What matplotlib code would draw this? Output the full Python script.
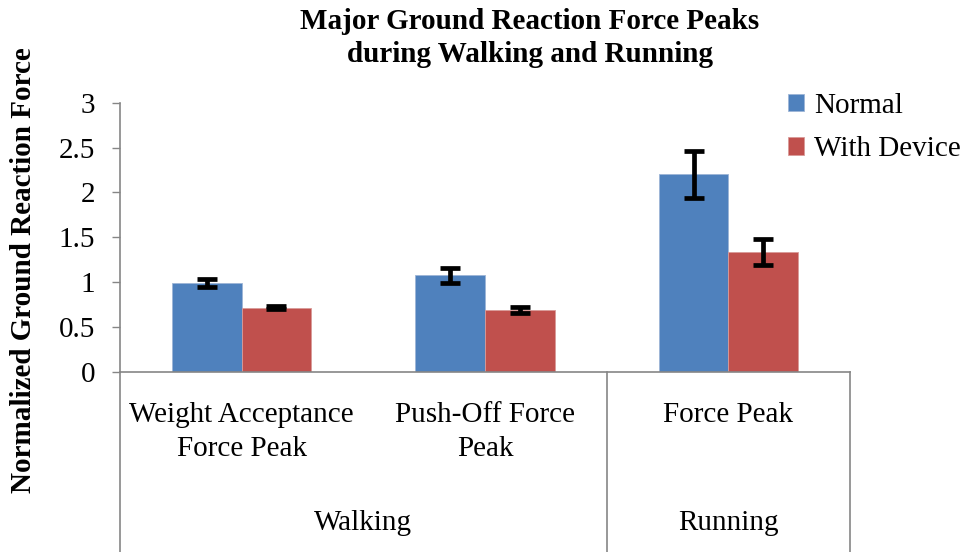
import numpy as np
import matplotlib
matplotlib.use("Agg")
import matplotlib.pyplot as plt
from matplotlib.transforms import blended_transform_factory

# peak values (body-weight normalised) and their standard deviations
peaks = ["Weight Acceptance\nForce Peak", "Push-Off Force\nPeak", "Force Peak"]
activities = ["Walking", "Running"]
activity_spans = [(0, 1), (2, 2)]
normal = [0.99, 1.075, 2.20]
normal_sd = [0.04, 0.085, 0.26]
device = [0.715, 0.69, 1.34]
device_sd = [0.02, 0.035, 0.145]

BLUE = "#4F81BD"
RED = "#C0504D"
AXIS_GREY = "#868686"
FS = 21

plt.rcParams["font.family"] = ["Liberation Serif", "DejaVu Serif"]

W, H = 967, 552
fig = plt.figure(figsize=(W / 100, H / 100), dpi=100)
left, right, top, bottom = 120, 850, 102.7, 371.7
ax = fig.add_axes([left / W, 1 - bottom / H, (right - left) / W, (bottom - top) / H])

x = np.arange(len(peaks))
width = 1 / 3.5
err_kw = dict(ecolor="black", elinewidth=3.4, capsize=7, capthick=3.4)
ax.bar(x - width / 2, normal, width, yerr=normal_sd, color=BLUE,
       edgecolor="#9DB5D6", linewidth=0.6, label="Normal", error_kw=err_kw)
ax.bar(x + width / 2, device, width, yerr=device_sd, color=RED,
       edgecolor="#D99A98", linewidth=0.6, label="With Device", error_kw=err_kw)

ax.set_xlim(-0.5, len(peaks) - 0.5)
ax.set_ylim(0, 3)
ax.set_yticks(np.arange(0, 3.01, 0.5))
ax.set_yticklabels(["0", "0.5", "1", "1.5", "2", "2.5", "3"])
ax.tick_params(axis="y", labelsize=FS, length=6, color=AXIS_GREY, width=1, pad=12)
ax.set_xticks([])

for side in ["top", "right"]:
    ax.spines[side].set_visible(False)
for side in ["left", "bottom"]:
    ax.spines[side].set_color(AXIS_GREY)
    ax.spines[side].set_linewidth(1.2)

# two-level category axis below the plot
span = bottom - top
trans = blended_transform_factory(ax.transData, ax.transAxes)
depth = -(H - bottom) / span
for xs in [-0.5, 1.5, len(peaks) - 0.5]:
    ax.plot([xs, xs], [0, depth], transform=trans, color=AXIS_GREY,
            lw=1.2, clip_on=False)

for xi, label in zip(x, peaks):
    ax.text(xi, -(402 - bottom) / span, label, transform=trans, ha="center",
            va="top", fontsize=FS, linespacing=1.38)

for (a, b), label in zip(activity_spans, activities):
    ax.text((a + b) / 2, -(523 - bottom) / span, label,
            transform=trans, ha="center", va="center", fontsize=FS)

fig.text(24 / W, 1 - 270 / H, "Normalized Ground Reaction Force", rotation=90,
         ha="center", va="center", fontsize=FS, fontweight="bold")

fig.text(530 / W, 1 - 38 / H, "Major Ground Reaction Force Peaks\nduring Walking and Running",
         ha="center", va="center", fontsize=FS, fontweight="bold", linespacing=1.25)

ax.legend(loc="upper left", bbox_to_anchor=(788 / W, 1 - 93 / H),
          bbox_transform=fig.transFigure, frameon=False, fontsize=FS,
          handlelength=0.55, handleheight=0.55, handletextpad=0.35,
          labelspacing=0.6, borderaxespad=0, borderpad=0)

fig.savefig("out.png", dpi=100)
